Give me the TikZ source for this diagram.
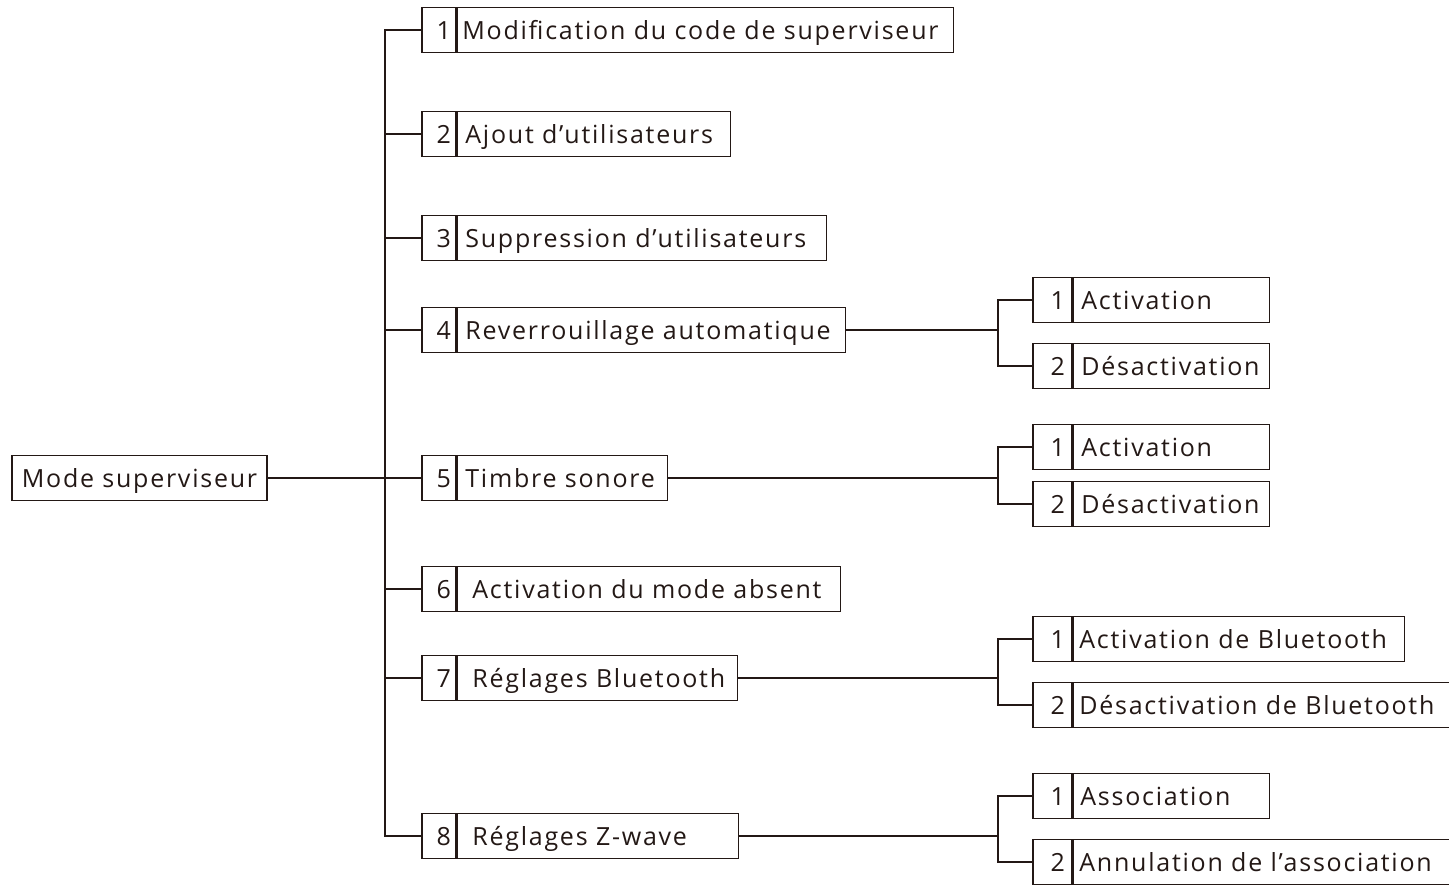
\documentclass[tikz,border=0pt]{standalone}
\usepackage{fontspec}
\setmainfont{Open Sans}[LetterSpace=7]
\usetikzlibrary{calc}
\definecolor{ink}{RGB}{35,24,21}

\begin{document}
\begin{tikzpicture}[x=1pt, y=-1pt, line width=1.6pt, draw=ink,
	every node/.style={font=\fontsize{25}{30}\selectfont, text=ink, text height=18pt, text depth=0pt},
	numcell/.style={draw=ink, minimum height=45pt, inner xsep=5pt, inner ysep=0pt, text width=24pt, align=right, anchor=west},
	subcell/.style={numcell, inner xsep=7pt, text width=25pt},
	labelbox/.style={draw=ink, minimum height=45pt, inner xsep=8pt, inner ysep=0pt, anchor=west, align=left}]

	\useasboundingbox (0,0) rectangle (1449,884);

	\def\mainx{421} % left edge of the menu items
	\def\subx{1032} % left edge of the sub items

	\coordinate (trunk) at (385,0);
	\coordinate (fork) at (998,0);

	% root
	\node[draw=ink, minimum width=255pt, minimum height=45pt, inner sep=0pt] (root) at (139.5,478) {Mode superviseur};

	% menu items
	\node[numcell] (n1) at (\mainx,30) {1};
	\node[labelbox, inner xsep=5pt, text width=486pt] (t1) at (n1.east) {Modification du code de superviseur};

	\node[numcell] (n2) at (\mainx,134) {2};
	\node[labelbox, text width=257pt] (t2) at (n2.east) {Ajout d’utilisateurs};

	\node[numcell] (n3) at (\mainx,238) {3};
	\node[labelbox, text width=353pt] (t3) at (n3.east) {Suppression d’utilisateurs};

	\node[numcell] (n4) at (\mainx,330) {4};
	\node[labelbox, text width=372pt] (t4) at (n4.east) {Reverrouillage automatique};

	\node[numcell] (n5) at (\mainx,478) {5};
	\node[labelbox, text width=194pt] (t5) at (n5.east) {Timbre sonore};

	\node[numcell] (n6) at (\mainx,589) {6};
	\node[labelbox, text width=367pt] (t6) at (n6.east) {\hspace{7pt}Activation du mode absent};

	\node[numcell] (n7) at (\mainx,678) {7};
	\node[labelbox, text width=264pt] (t7) at (n7.east) {\hspace{7pt}Réglages Bluetooth};

	\node[numcell] (n8) at (\mainx,836) {8};
	\node[labelbox, text width=265pt] (t8) at (n8.east) {\hspace{7pt}Réglages Z-wave};

	% sub items
	\node[subcell] (n4a) at (\subx,300) {1};
	\node[labelbox, text width=180pt] (t4a) at (n4a.east) {Activation};
	\node[subcell] (n4b) at (\subx,366) {2};
	\node[labelbox, text width=180pt] (t4b) at (n4b.east) {Désactivation};

	\node[subcell] (n5a) at (\subx,447) {1};
	\node[labelbox, text width=180pt] (t5a) at (n5a.east) {Activation};
	\node[subcell] (n5b) at (\subx,504) {2};
	\node[labelbox, text width=180pt] (t5b) at (n5b.east) {Désactivation};

	\node[subcell] (n7a) at (\subx,639) {1};
	\node[labelbox, inner xsep=6pt, text width=319pt] (t7a) at (n7a.east) {Activation de Bluetooth};
	\node[subcell] (n7b) at (\subx,705) {2};
	\node[labelbox, inner xsep=6pt, text width=364pt] (t7b) at (n7b.east) {Désactivation de Bluetooth};

	\node[subcell] (n8a) at (\subx,796) {1};
	\node[labelbox, inner xsep=7pt, text width=182pt] (t8a) at (n8a.east) {Association};
	\node[subcell] (n8b) at (\subx,862) {2};
	\node[labelbox, inner xsep=6pt, text width=364pt] (t8b) at (n8b.east) {Annulation de l’association};

	% trunk
	\draw (root.east) -- (n5.west);
	\draw (n1.west) -- (n1.west -| trunk) -- (n8.west -| trunk) -- (n8.west);
	\draw (n2.west) -- (n2.west -| trunk);
	\draw (n3.west) -- (n3.west -| trunk);
	\draw (n4.west) -- (n4.west -| trunk);
	\draw (n6.west) -- (n6.west -| trunk);
	\draw (n7.west) -- (n7.west -| trunk);

	% forks
	\draw (t4.east) -- (t4.east -| fork);
	\draw (n4a.west) -- (n4a.west -| fork) -- (n4b.west -| fork) -- (n4b.west);

	\draw (t5.east) -- (t5.east -| fork);
	\draw (n5a.west) -- (n5a.west -| fork) -- (n5b.west -| fork) -- (n5b.west);

	\draw (t7.east) -- (t7.east -| fork);
	\draw (n7a.west) -- (n7a.west -| fork) -- (n7b.west -| fork) -- (n7b.west);

	\draw (t8.east) -- (t8.east -| fork);
	\draw (n8a.west) -- (n8a.west -| fork) -- (n8b.west -| fork) -- (n8b.west);

\end{tikzpicture}
\end{document}
